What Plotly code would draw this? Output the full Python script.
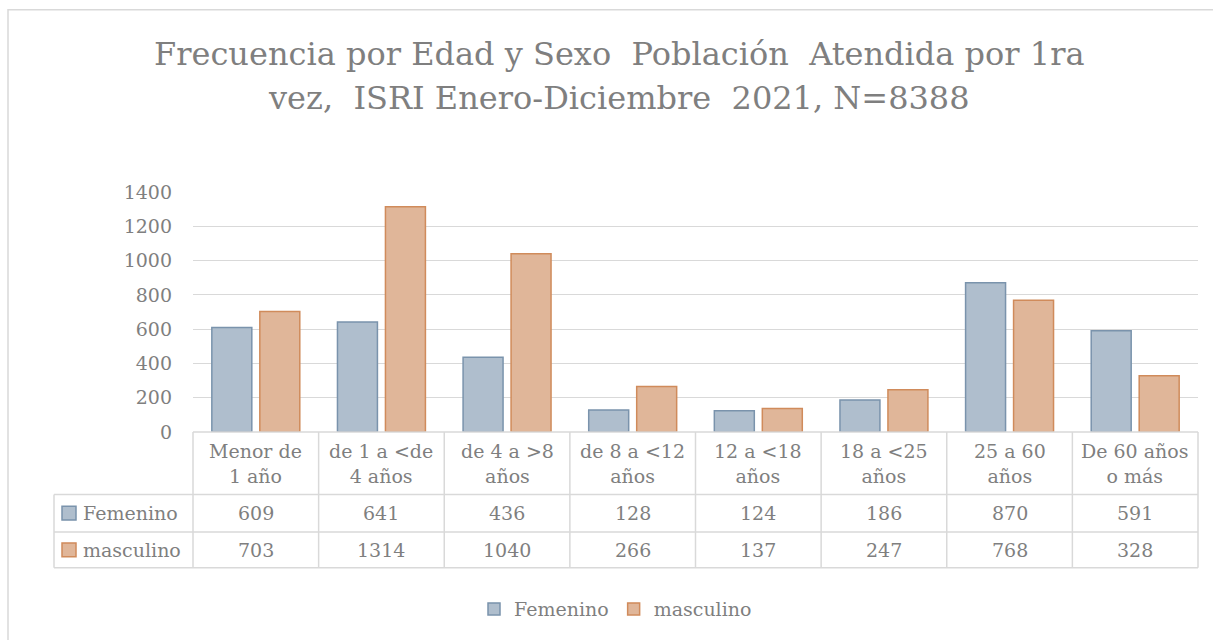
import plotly.graph_objects as go

categories = ["Menor de<br>1 año", "de 1 a &lt;de<br>4 años", "de 4 a &gt;8<br>años",
              "de 8 a &lt;12<br>años", "12 a &lt;18<br>años", "18 a &lt;25<br>años",
              "25 a 60<br>años", "De 60 años<br>o más"]
femenino = [609, 641, 436, 128, 124, 186, 870, 591]
masculino = [703, 1314, 1040, 266, 137, 247, 768, 328]
series_names = ["Femenino", "masculino"]
title_lines = ["Frecuencia por Edad y Sexo  Población  Atendida por 1ra",
               "vez,  ISRI Enero-Diciembre  2021, N=8388"]
y_ticks = [0, 200, 400, 600, 800, 1000, 1200, 1400]

FW, FH = 1213, 640
L, R, T, B = 193, 1198, 192, 435.6
PW, PH = R - L, B - T

def px(x):
    return (x - L) / PW

def py(y):
    return (B - y) / PH

FONT = "DejaVu Serif"
GRAY = "#7F7F7F"
LINE = "#D9D9D9"
fills = ["#AFBECD", "#E0B699"]
edges = ["#7A93AC", "#D08B5B"]

xs = list(range(len(categories)))
fig = go.Figure()
for name, vals, fc, ec in zip(series_names, [femenino, masculino], fills, edges):
    fig.add_trace(go.Bar(x=xs, y=vals, name=name,
                         marker=dict(color=fc, line=dict(color=ec, width=1.5))))

shapes = []
annotations = []

# outer chart border
shapes.append(dict(type="rect", xref="paper", yref="paper",
                   x0=px(8), x1=px(1220), y0=py(7), y1=py(660),
                   line=dict(color=LINE, width=1.5), fillcolor="rgba(0,0,0,0)", layer="below"))

# table geometry (pixels)
row_top, row_h1, row_f, row_m = 435.6, 499, 537, 573.3
leg_left = 54
n = len(categories)
# horizontal lines
shapes.append(dict(type="line", xref="paper", yref="paper", x0=0, x1=1, y0=py(row_top), y1=py(row_top),
                   line=dict(color=LINE, width=1.5)))
for yy in [row_h1, row_f, row_m]:
    shapes.append(dict(type="line", xref="paper", yref="paper", x0=px(leg_left), x1=1,
                       y0=py(yy), y1=py(yy), line=dict(color=LINE, width=1.5)))
# vertical lines
for i in range(n + 1):
    shapes.append(dict(type="line", xref="paper", yref="paper", x0=i / n, x1=i / n,
                       y0=py(row_top), y1=py(row_m), line=dict(color=LINE, width=1.5)))
shapes.append(dict(type="line", xref="paper", yref="paper", x0=px(leg_left), x1=px(leg_left),
                   y0=py(row_h1), y1=py(row_m), line=dict(color=LINE, width=1.5)))

# header labels
for i, c in enumerate(categories):
    annotations.append(dict(x=(i + 0.5) / n, y=py((row_top + row_h1) / 2), xref="paper", yref="paper",
                            text=c, showarrow=False, xanchor="center", yanchor="middle",
                            font=dict(family=FONT, size=19, color=GRAY)))
# values rows
for vals, yc in [(femenino, (row_h1 + row_f) / 2), (masculino, (row_f + row_m) / 2)]:
    for i, v in enumerate(vals):
        annotations.append(dict(x=(i + 0.5) / n, y=py(yc), xref="paper", yref="paper",
                                text=str(v), showarrow=False, xanchor="center", yanchor="middle",
                                font=dict(family=FONT, size=19, color=GRAY)))
# legend keys in table
for name, fc, ec, yc in zip(series_names, fills, edges,
                            [(row_h1 + row_f) / 2, (row_f + row_m) / 2]):
    shapes.append(dict(type="rect", xref="paper", yref="paper", x0=px(62), x1=px(76),
                       y0=py(yc - 7), y1=py(yc + 7), fillcolor=fc, line=dict(color=ec, width=1.5)))
    annotations.append(dict(x=px(81), y=py(yc), xref="paper", yref="paper", text=name,
                            showarrow=False, xanchor="left", yanchor="middle",
                            font=dict(family=FONT, size=19, color=GRAY)))

# title
for line, yc in zip(title_lines, [52, 97]):
    annotations.append(dict(x=px(619), y=py(yc), xref="paper", yref="paper",
                            text=line.replace("  ", " &nbsp;"), showarrow=False,
                            xanchor="center", yanchor="middle",
                            font=dict(family=FONT, size=32, color=GRAY)))

fig.update_layout(
    width=FW, height=FH,
    margin=dict(l=L, r=FW - R, t=T, b=FH - B, pad=0),
    paper_bgcolor="white", plot_bgcolor="white",
    barmode="group", bargap=0.236, bargroupgap=0.167,
    font=dict(family=FONT, color=GRAY, size=19),
    showlegend=True,
    legend=dict(orientation="h", x=px(474), y=py(596), xanchor="left", yanchor="top",
                font=dict(family=FONT, size=19, color=GRAY), itemwidth=30,
                bgcolor="rgba(0,0,0,0)"),
    xaxis=dict(range=[-0.5, n - 0.5], showticklabels=False, showgrid=False, zeroline=False,
               showline=False, ticks=""),
    yaxis=dict(range=[0, 1400], tickvals=y_ticks, showgrid=True, gridcolor=LINE, gridwidth=1.3,
               zeroline=False, showline=False, ticks="", ticklabelstandoff=20,
               tickfont=dict(family=FONT, size=19, color=GRAY)),
    shapes=shapes, annotations=annotations,
)

fig.write_html("out.html", config={"displayModeBar": False},
               post_script="document.body.style.margin='0';document.body.style.overflow='hidden';")
